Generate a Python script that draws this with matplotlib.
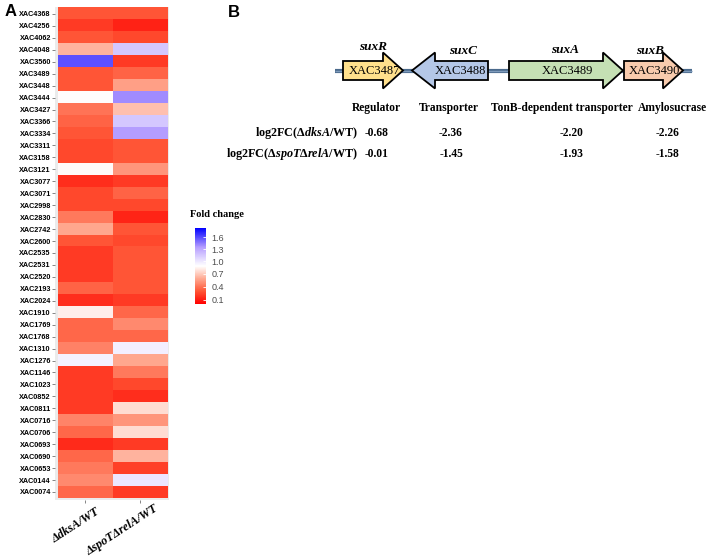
import numpy as np
import matplotlib
matplotlib.use('Agg')
import matplotlib.pyplot as plt
from matplotlib.colors import LinearSegmentedColormap, TwoSlopeNorm
from matplotlib.patches import Polygon
import matplotlib.transforms as mtransforms

# ---- panel A data: fold change per gene ----
genes = ['XAC4368', 'XAC4256', 'XAC4062', 'XAC4048', 'XAC3560', 'XAC3489', 'XAC3448',
         'XAC3444', 'XAC3427', 'XAC3366', 'XAC3334', 'XAC3311', 'XAC3158', 'XAC3121',
         'XAC3077', 'XAC3071', 'XAC2998', 'XAC2830', 'XAC2742', 'XAC2600', 'XAC2535',
         'XAC2531', 'XAC2520', 'XAC2193', 'XAC2024', 'XAC1910', 'XAC1769', 'XAC1768',
         'XAC1310', 'XAC1276', 'XAC1146', 'XAC1023', 'XAC0852', 'XAC0811', 'XAC0716',
         'XAC0706', 'XAC0693', 'XAC0690', 'XAC0653', 'XAC0144', 'XAC0074']
fc_dksA = [0.30, 0.20, 0.30, 0.62, 1.58, 0.30, 0.30, 0.87, 0.40, 0.35, 0.30, 0.25,
           0.25, 0.86, 0.16, 0.25, 0.25, 0.42, 0.58, 0.30, 0.20, 0.20, 0.20, 0.35,
           0.16, 0.82, 0.36, 0.36, 0.45, 0.95, 0.20, 0.20, 0.20, 0.20, 0.46, 0.36,
           0.15, 0.36, 0.42, 0.48, 0.36]
fc_spoT = [0.30, 0.12, 0.25, 1.15, 0.20, 0.35, 0.55, 1.40, 0.66, 1.15, 1.35, 0.30,
           0.30, 0.52, 0.20, 0.35, 0.25, 0.13, 0.30, 0.25, 0.30, 0.30, 0.30, 0.30,
           0.20, 0.36, 0.48, 0.36, 0.96, 0.58, 0.42, 0.25, 0.16, 0.76, 0.52, 0.76,
           0.20, 0.62, 0.22, 1.00, 0.20]
col_labels = ['ΔdksA/WT', 'ΔspoTΔrelA/WT']

# ---- panel B data: sux gene cluster ----
gene_names = ['suxR', 'suxC', 'suxA', 'suxB']
gene_ids = ['XAC3487', 'XAC3488', 'XAC3489', 'XAC3490']
gene_func = ['Regulator', 'Transporter', 'TonB-dependent transporter', 'Amylosucrase']
gene_start = [23, 92, 189, 304]
gene_end = [83, 168, 303, 363]
gene_strand = [1, -1, 1, 1]
gene_colors = ['#FFE08C', '#B4C7E7', '#C5E0B4', '#F8CBAD']
log2fc_dksA = [-0.68, -2.36, -2.20, -2.26]
log2fc_spoT = [-0.01, -1.45, -1.93, -1.58]

serif = 'Liberation Serif'
sans = 'Liberation Sans'
plt.rcParams['mathtext.fontset'] = 'custom'
plt.rcParams['mathtext.rm'] = 'Liberation Serif:bold'
plt.rcParams['mathtext.it'] = 'Liberation Serif:italic:bold'
plt.rcParams['mathtext.bf'] = 'Liberation Serif:bold'

fig = plt.figure(figsize=(7.09, 5.59), dpi=100)
W, H = 709, 559

def px_axes(x0, y0, x1, y1):
    return fig.add_axes([x0 / W, 1 - y1 / H, (x1 - x0) / W, (y1 - y0) / H])

# red - white - blue, white at the midpoint
low = LinearSegmentedColormap.from_list('low', ['#FF0000', '#FF5535', '#FFA890', '#FFFFFF'])
high = LinearSegmentedColormap.from_list('high', ['#FFFFFF', '#B49CFF', '#0000FF'])
colors = np.vstack([low(np.linspace(0, 1, 128)), high(np.linspace(0, 1, 128))])
cmap = LinearSegmentedColormap.from_list('fc', colors)
norm = TwoSlopeNorm(vmin=0.0, vcenter=0.88, vmax=1.83)

# ---- panel A heatmap ----
ax = px_axes(55, 7, 169, 500)
data = np.column_stack([fc_dksA, fc_spoT])
ax.set_facecolor('#EBEBEB')
ax.imshow(data, cmap=cmap, norm=norm, aspect='auto', interpolation='nearest')
ax.set_xlim(-0.555, 1.52)
ybot = len(genes) - 0.5 + 0.17
ax.set_ylim(ybot, -0.58)
for s in ax.spines.values():
    s.set_visible(False)
ax.set_yticks(range(len(genes)))
ax.set_yticklabels(genes, fontsize=5.2, family=sans, color='black', fontweight='bold')
ax.set_xticks([0, 1])
ax.set_xticklabels([])
ax.tick_params(length=2, width=0.5, color='#555555', pad=1)

offsets = [(10, -6), (13, -3)]
for i, lab in enumerate(col_labels):
    off = mtransforms.ScaledTranslation(offsets[i][0] / 100, offsets[i][1] / 100,
                                        fig.dpi_scale_trans)
    ax.text(i, ybot, lab, rotation=33, rotation_mode='anchor',
            ha='right', va='top', fontsize=8.8, family=serif, fontweight='bold',
            style='italic', transform=ax.transData + off)

fig.text(5 / W, 1 - 16 / H, 'A', fontsize=12, fontweight='bold', family=sans)
fig.text(228 / W, 1 - 17 / H, 'B', fontsize=12, fontweight='bold', family=sans)

# ---- colorbar ----
cax = px_axes(195, 228, 206, 304)
sm = matplotlib.cm.ScalarMappable(norm=norm, cmap=cmap)
cb = fig.colorbar(sm, cax=cax, ticks=[0.1, 0.4, 0.7, 1.0, 1.3, 1.6])
cb.outline.set_visible(False)
cb.ax.set_yticklabels(['0.1', '0.4', '0.7', '1.0', '1.3', '1.6'])
cb.ax.tick_params(labelsize=6.5, labelcolor='#4D4D4D', color='white', length=2.5,
                  direction='in', width=0.6, pad=4)
for t in cb.ax.get_yticklabels():
    t.set_family(sans)
fig.text(190 / W, 1 - 217 / H, 'Fold change', fontsize=7.5, fontweight='bold', family=serif)

# ---- panel B gene map ----
axb = px_axes(320, 30, 709, 170)
axb.set_xlim(0, 389)
axb.set_ylim(140, 0)
axb.axis('off')

yc = 40.5
axb.plot([15, 372], [yc, yc], color='#4A6A8C', lw=3, solid_capstyle='butt', zorder=1)
axb.plot([15, 372], [yc, yc], color='#7F9BBB', lw=1, solid_capstyle='butt', zorder=1)

body, head, hlen = 9.5, 18, 20
for gid, st, en, strand, c in zip(gene_ids, gene_start, gene_end, gene_strand, gene_colors):
    if strand > 0:
        hb = en - hlen
        pts = [(st, yc - body), (hb, yc - body), (hb, yc - head), (en, yc),
               (hb, yc + head), (hb, yc + body), (st, yc + body)]
        tx = (st + en) / 2 + 1
    else:
        hb = st + hlen + 3
        pts = [(en, yc - body), (hb, yc - body), (hb, yc - head), (st, yc),
               (hb, yc + head), (hb, yc + body), (en, yc + body)]
        tx = (st + en) / 2 + 10
    axb.add_patch(Polygon(pts, closed=True, facecolor=c, edgecolor='black', lw=1.3, zorder=2))
    axb.text(tx, yc + 0.5, gid, ha='center', va='center', fontsize=9, family=serif, zorder=3)

name_x = [53, 143, 245, 330]
name_y = [17, 21, 20, 21]
for n, x, y in zip(gene_names, name_x, name_y):
    axb.text(x, y, n, ha='center', va='center', fontsize=9.5, family=serif,
             fontweight='bold', style='italic')

func_x = [56, 129, 242, 352]
for f, x in zip(gene_func, func_x):
    axb.text(x, 78, f, ha='center', va='center', fontsize=8.3, family=serif, fontweight='bold')

val_x = [57, 131, 252, 348]
for v1, v2, x in zip(log2fc_dksA, log2fc_spoT, val_x):
    axb.text(x, 103, f'{v1:.2f}', ha='center', va='center', fontsize=8.3, family=serif,
             fontweight='bold')
    axb.text(x, 124, f'{v2:.2f}', ha='center', va='center', fontsize=8.3, family=serif,
             fontweight='bold')

axb.text(38, 103, r'log2FC($\Delta\mathit{dksA}$/WT)', ha='right', va='center',
         fontsize=8.7, family=serif, fontweight='bold')
axb.text(38, 124, r'log2FC($\Delta\mathit{spoT}\Delta\mathit{relA}$/WT)', ha='right',
         va='center', fontsize=8.7, family=serif, fontweight='bold')

fig.savefig('out.png', dpi=100)
